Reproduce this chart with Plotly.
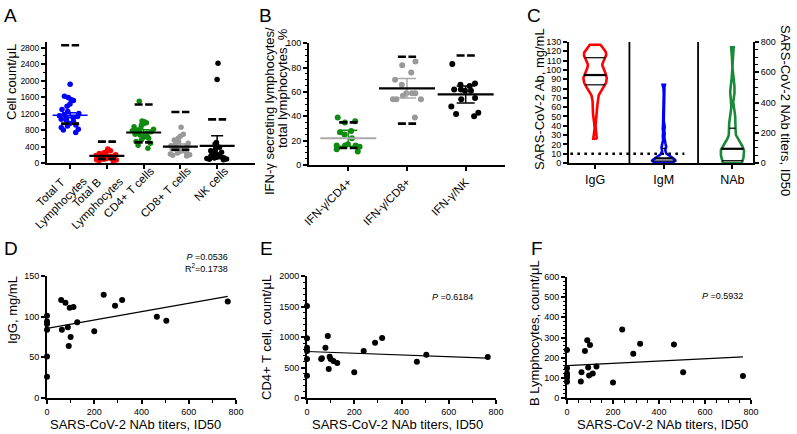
import numpy as np
import plotly.graph_objects as go

W, H = 797, 434
FONT = "Liberation Sans, Arial, Helvetica, sans-serif"

# ---------------- DATA ----------------
# Panel A: cell counts per uL
a_labels = ["Total T<br>Lymphocytes", "Total B<br>Lymphocytes", "CD4+ T cells", "CD8+ T cells", "NK cells"]
a_total_t = [1910, 1620, 1590, 1540, 1520, 1430, 1380, 1300, 1250, 1200, 1180, 1150, 1130,
             1100, 1090, 1060, 1040, 1000, 960, 920, 900, 860, 820, 800, 740]
a_total_b = [340, 300, 280, 250, 230, 220, 200, 190, 180, 170, 160, 150, 140, 130, 120,
             110, 100, 90, 80, 70, 60, 50]
a_cd4 = [1500, 1020, 1000, 980, 950, 920, 880, 850, 820, 800, 780, 760, 740, 720, 700,
         680, 650, 620, 600, 560, 520, 480, 430, 360]
a_cd8 = [870, 700, 650, 600, 560, 520, 480, 450, 420, 400, 380, 360, 340, 320, 300, 280,
         260, 240, 220, 200, 190, 170]
a_nk = [2420, 2030, 500, 460, 420, 380, 340, 300, 260, 230, 200, 180, 160, 150, 140, 130,
        120, 110, 100, 90, 80]
a_mean = [1160, 175, 740, 400, 415]
a_err = [60, 20, 70, 60, 245]
a_ref_high = [2860, 520, 1420, 1240, 1060]
a_ref_low = [955, 100, 500, 320, 150]

# Panel B: IFN-gamma secreting lymphocytes / total lymphocytes, %
b_labels = ["IFN-γ/CD4+", "IFN-γ/CD8+", "IFN-γ/NK"]
b_cd4 = [39, 36, 35, 28, 27, 25, 22, 17, 16, 16, 16, 15, 13, 11]
b_cd8 = [85, 82, 76, 70, 66, 59, 59, 59, 57, 54, 54, 54, 39]
b_nk = [83, 67, 66, 65, 62, 62, 61, 61, 55, 54, 48, 43, 42, 40]
b_mean = [22, 63, 58]
b_err = [6.5, 8, 7]
b_ref_high = [35, 89, 90]
b_ref_low = [14, 34, None]

# Panels D/E/F (and violins in C): per-patient values
nab = [0, 0, 0, 0, 0, 0, 60, 63, 78, 88, 92, 96, 100, 112, 128, 200, 240, 288, 318, 465, 505, 765]
igg = [101, 94, 91, 84, 51, 26, 120.5, 84, 117, 87, 64, 111, 75, 112, 93, 82, 127, 113.5,
       120.5, 100, 95, 118.5]
cd4_count = [1510, 980, 825, 770, 640, 366, 639, 650, 825, 1016, 475, 677, 640, 607, 574,
             421, 770, 907, 983, 595, 710, 672]
b_count = [238, 148, 122, 112, 100, 80, 82, 128, 233, 286, 151, 112, 263, 122, 156, 77,
           340, 219, 269, 265, 128, 109]
igm = [0.5, 1, 1, 1.5, 2, 2, 2.5, 3, 3.5, 4, 4.5, 5.5, 6, 7, 9, 12, 17, 18, 22, 30, 38, 84]
c_labels = ["IgG", "IgM", "NAb"]
igm_cutoff = 10
p_texts = ["<i>P</i> =0.0536<br>R<sup>2</sup>=0.1738", "<i>P</i> =0.6184", "<i>P</i> =0.5932"]

# ---------------- HELPERS ----------------
def dx(a, b):
    return [a / W, b / W]

def dy(top, bottom):
    return [1 - bottom / H, 1 - top / H]

def ax(domain, rng, size=9, **kw):
    d = dict(domain=domain, range=rng, showline=True, linecolor="black", linewidth=2,
             ticks="outside", ticklen=4, tickwidth=1.5, tickcolor="black",
             showgrid=False, zeroline=False, automargin=False, fixedrange=True,
             tickfont=dict(size=size, color="black", family=FONT))
    d.update(kw)
    return d

def minor(dt, ln=2.5):
    return dict(ticks="outside", ticklen=ln, tickwidth=1, tickcolor="black", dtick=dt, showgrid=False)

fig = go.Figure()

# ---------------- PANEL A ----------------
a_groups = [a_total_t, a_total_b, a_cd4, a_cd8, a_nk]
a_cols = ["#0000ff", "#ff0000", "#118a11", "#999999", "#000000"]
a_mean_cols = ["#0000ff", "#000000", "#000000", "#000000", "#000000"]
for i, (vals, col) in enumerate(zip(a_groups, a_cols)):
    fig.add_trace(go.Box(y=vals, x0=i, boxpoints="all", jitter=1, pointpos=0, width=0.66,
                         marker=dict(color=col, size=5.5), line=dict(width=0, color="rgba(0,0,0,0)"),
                         fillcolor="rgba(0,0,0,0)", xaxis="x", yaxis="y", showlegend=False,
                         hoveron="points"))
    fig.add_trace(go.Scatter(x=[i], y=[a_mean[i]], mode="markers", xaxis="x", yaxis="y",
                             marker=dict(symbol="line-ew", size=25,
                                         line=dict(color=a_mean_cols[i], width=1.6 if i == 0 else 2.2)),
                             error_y=dict(type="data", array=[a_err[i]], color=a_cols[i] if i != 4 else "black",
                                          thickness=1.5, width=6),
                             showlegend=False, cliponaxis=False))
xs, ys = [], []
for i, (hi, lo) in enumerate(zip(a_ref_high, a_ref_low)):
    for v in (hi, lo):
        if v is not None:
            xs += [i - 0.245, i + 0.245, None]
            ys += [v, v, None]
fig.add_trace(go.Scatter(x=xs, y=ys, mode="lines", xaxis="x", yaxis="y",
                         line=dict(color="black", width=2.6, dash="8px,2.5px"), showlegend=False))

# ---------------- PANEL B ----------------
b_groups = [b_cd4, b_cd8, b_nk]
b_cols = ["#118a11", "#999999", "#000000"]
b_mean_cols = ["#aaaaaa", "#000000", "#000000"]
b_err_cols = ["#118a11", "#aaaaaa", "#000000"]
for i, (vals, col) in enumerate(zip(b_groups, b_cols)):
    fig.add_trace(go.Box(y=vals, x0=i, boxpoints="all", jitter=1, pointpos=0, width=0.62,
                         marker=dict(color=col, size=6), line=dict(width=0, color="rgba(0,0,0,0)"),
                         fillcolor="rgba(0,0,0,0)", xaxis="x2", yaxis="y2", showlegend=False,
                         hoveron="points"))
    fig.add_trace(go.Scatter(x=[i], y=[b_mean[i]], mode="markers", xaxis="x2", yaxis="y2",
                             marker=dict(symbol="line-ew", size=40, line=dict(color=b_mean_cols[i], width=2.2)),
                             error_y=dict(type="data", array=[b_err[i]], color=b_err_cols[i],
                                          thickness=1.5, width=9),
                             showlegend=False))
xs, ys = [], []
for i, (hi, lo) in enumerate(zip(b_ref_high, b_ref_low)):
    for v in (hi, lo):
        if v is not None:
            xs += [i - 0.155, i + 0.155, None]
            ys += [v, v, None]
fig.add_trace(go.Scatter(x=xs, y=ys, mode="lines", xaxis="x2", yaxis="y2",
                         line=dict(color="black", width=2.6, dash="8px,2.5px"), showlegend=False))

# ---------------- PANEL C (violins) ----------------
def violin(data, bw, hw, pos, n=300):
    d = np.asarray(data, float)
    yv = np.linspace(d.min(), d.max(), n)
    dens = np.exp(-0.5 * ((yv[:, None] - d[None, :]) / bw) ** 2).sum(1)
    w = hw * dens / dens.max()
    xo = np.concatenate([pos + w, (pos - w)[::-1], [pos + w[0]]])
    yo = np.concatenate([yv, yv[::-1], [yv[0]]])
    return xo, yo, yv, w

c_sets = [(igg, 6.0, "#ff0000", "y3"), (igm, 2.2, "#0000ff", "y3"), (nab, 45.0, "#1a8a3a", "y4")]
for i, (data, bw, col, yax) in enumerate(c_sets):
    xo, yo, yv, w = violin(data, bw, 0.17, i)
    fig.add_trace(go.Scatter(x=xo, y=yo, mode="lines", xaxis="x3", yaxis=yax,
                             line=dict(color=col, width=2.6), showlegend=False, cliponaxis=False))
    q1, med, q3 = np.percentile(data, [25, 50, 75])
    for q, lw in ((q1, 1.2), (med, 2.2), (q3, 1.2)):
        hw_q = float(np.interp(q, yv, w))
        fig.add_trace(go.Scatter(x=[i - hw_q, i + hw_q], y=[q, q], mode="lines", xaxis="x3", yaxis=yax,
                                 line=dict(color="black", width=lw), showlegend=False))
# separators
for sx in (0.5, 1.5):
    fig.add_trace(go.Scatter(x=[sx, sx], y=[0, 130], mode="lines", xaxis="x3", yaxis="y3",
                             line=dict(color="black", width=1.8), showlegend=False))
# IgM cut-off line
fig.add_trace(go.Scatter(x=[-0.36, 1.3], y=[igm_cutoff, igm_cutoff], mode="lines", xaxis="x3", yaxis="y3",
                         line=dict(color="black", width=2.6, dash="2.6px,4.4px"), showlegend=False))

# ---------------- PANELS D/E/F ----------------
scat = [(igg, "x4", "y5"), (cd4_count, "x5", "y6"), (b_count, "x6", "y7")]
for yvals, xa, ya in scat:
    fig.add_trace(go.Scatter(x=nab, y=yvals, mode="markers", xaxis=xa, yaxis=ya,
                             marker=dict(color="black", size=6), showlegend=False, cliponaxis=False))
    k, b0 = np.polyfit(nab, yvals, 1)
    xl = [0, max(nab)]
    fig.add_trace(go.Scatter(x=xl, y=[b0 + k * v for v in xl], mode="lines", xaxis=xa, yaxis=ya,
                             line=dict(color="black", width=1.2), showlegend=False))

# ---------------- LAYOUT ----------------
layout = dict(
    width=W, height=H, margin=dict(l=0, r=0, t=0, b=0), paper_bgcolor="white",
    plot_bgcolor="white", boxmode="overlay", showlegend=False,
    font=dict(family=FONT, color="black"),
    # A
    xaxis=ax(dx(47, 255), [-0.63, 5.03], anchor="y", tickvals=list(range(5)), showticklabels=False),
    yaxis=ax(dy(41.5, 163), [0, 2950], size=8.5, anchor="x", dtick=400, tick0=0, minor=minor(200)),
    # B
    xaxis2=ax(dx(309, 505), [-0.67, 2.67], size=11.5, anchor="y2", tickvals=[0, 1, 2],
              ticktext=b_labels, tickangle=-45),
    yaxis2=ax(dy(43.3, 165), [0, 100], size=9, anchor="x2", dtick=20, tick0=0, minor=minor(5)),
    # C
    xaxis3=ax(dx(569, 753), [-0.38, 2.3], size=12.5, anchor="y3", tickvals=[0, 1, 2],
              ticktext=c_labels),
    yaxis3=ax(dy(42, 163), [0, 130], size=9, anchor="x3", dtick=10, tick0=0),
    yaxis4=ax(dy(42, 163), [0, 800], size=9, anchor="x3", overlaying="y3", side="right",
              dtick=200, tick0=0, minor=minor(50)),
    # D
    xaxis4=ax(dx(47, 236), [0, 800], size=9, anchor="y5", dtick=200, minor=minor(100)),
    yaxis5=ax(dy(276, 398), [0, 150], size=9, anchor="x4", dtick=50),
    # E
    xaxis5=ax(dx(307, 496), [0, 800], size=9, anchor="y6", dtick=200, minor=minor(100)),
    yaxis6=ax(dy(276, 398), [0, 2000], size=9, anchor="x5", dtick=500, minor=minor(100)),
    # F
    xaxis6=ax(dx(567, 751), [0, 800], size=9, anchor="y7", dtick=200, minor=minor(50)),
    yaxis7=ax(dy(277, 398), [0, 600], size=9, anchor="x6", dtick=100, minor=minor(20)),
)

ann = []
def txt(x, y, s, size=13, angle=0, xanchor="center", yanchor="middle", align="center"):
    ann.append(dict(x=x / W, y=1 - y / H, xref="paper", yref="paper", text=s, showarrow=False,
                    textangle=angle, xanchor=xanchor, yanchor=yanchor, align=align,
                    font=dict(size=size, color="black", family=FONT)))

# rotated (45 deg) category labels of panel A, centred lines, end of text near the tick
for i, lab in enumerate(a_labels):
    two = "<br>" in lab
    ann.append(dict(x=i, xref="x", y=1 - (161 if two else 162) / H, yref="paper", text=lab,
                    showarrow=False, textangle=-45, xanchor="right", yanchor="top", align="center",
                    xshift=22 if two else 16, font=dict(size=11.5, color="black", family=FONT)))

for letter, (lx, ly) in zip("ABCDEF", [(10, 15), (265, 15), (534, 15), (11, 248), (266, 248), (537, 248)]):
    txt(lx, ly, letter, size=19)

txt(12, 82, "Cell count/μL", angle=-90)
txt(269, 111, "IFN-γ secreting lymphocytes/", angle=-90)
txt(282, 88, "total lymphocytes, %", angle=-90)
txt(540, 99, "SARS-CoV-2 Ab, mg/mL", angle=-90)
txt(786, 110, "SARS-CoV-2 NAb titers, ID50", angle=90)
txt(12, 310, "IgG, mg/mL", angle=-90)
txt(266, 338, "CD4+ T cell, count/μL", angle=-90)
txt(534, 333, "B Lymphocytes, count/μL", angle=-90)
for cx in (135, 397, 662):
    txt(cx, 424, "SARS-CoV-2 NAb titers, ID50")
txt(230, 263, p_texts[0], size=9, xanchor="right", align="right")
txt(475, 297, p_texts[1], size=9, xanchor="right")
txt(745, 296, p_texts[2], size=9, xanchor="right")

layout["annotations"] = ann
fig.update_layout(**layout)
fig.write_html("out.html", config={"displayModeBar": False},
               post_script="document.body.style.margin='0px';document.body.style.overflow='hidden';")
